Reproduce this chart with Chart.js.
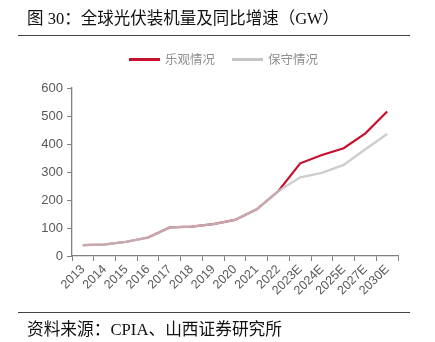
<!DOCTYPE html>
<html><head><meta charset="utf-8">
<script src="https://cdn.jsdelivr.net/npm/chart.js@4/dist/chart.umd.min.js"></script>
<style>
html,body{margin:0;padding:0;background:#fff;}
#wrap{position:relative;width:435px;height:342px;overflow:hidden;}
#c{position:absolute;left:0;top:0;}
.t{position:absolute;white-space:nowrap;font-family:"Liberation Serif","Noto Sans CJK SC",serif;color:#111;}
.rule{position:absolute;left:18px;width:392px;height:1px;background:#444;}
.lg{position:absolute;height:3px;}
.lt{position:absolute;font-family:"Noto Sans CJK SC",sans-serif;font-size:12.5px;color:#8f8f8f;line-height:14px;}
</style></head>
<body><div id="wrap">
<canvas id="c" width="435" height="342"></canvas>
<div class="t" style="left:27px;top:5px;font-size:16.5px;">图 30：全球光伏装机量及同比增速（GW）</div>
<div class="rule" style="top:35px;"></div>
<div class="lg" style="left:129px;top:58px;width:31px;background:#C8102E;"></div>
<div class="lt" style="left:165px;top:52px;">乐观情况</div>
<div class="lg" style="left:232px;top:58px;width:31px;background:#C4C4C4;"></div>
<div class="lt" style="left:268px;top:52px;">保守情况</div>
<div class="rule" style="top:312px;"></div>
<div class="t" style="left:27px;top:316px;font-size:16.7px;">资料来源：CPIA、山西证券研究所</div>
</div>
<script>
const categories = ["2013","2014","2015","2016","2017","2018","2019","2020","2021","2022","2023E","2024E","2025E","2027E","2030E"];
const optimistic = [39, 41, 51, 66, 102, 105, 114, 129, 167, 232, 331, 361, 385, 438, 516];
const conservative = [39, 41, 51, 66, 102, 105, 114, 129, 167, 232, 281, 297, 325, 381, 436];
const yTicks = [0,100,200,300,400,500,600];

new Chart(document.getElementById('c'), {
  type: 'line',
  data: {
    labels: categories,
    datasets: [
      {label:'乐观情况', data: optimistic, borderColor:'#C8102E', borderWidth:2.2, pointRadius:0, tension:0, fill:false, order:1},
      {label:'保守情况', data: conservative, borderColor:'rgba(196,196,196,0.85)', borderWidth:2.4, pointRadius:0, tension:0, fill:false, order:0}
    ]
  },
  options: {
    responsive:false, animation:false, devicePixelRatio:1,
    layout:{padding:{top:88,right:37,left:0,bottom:0}},
    plugins:{legend:{display:false}, tooltip:{enabled:false}},
    scales:{
      x:{
        offset:true,
        grid:{display:true, drawOnChartArea:false, tickLength:5, color:'#808080', offset:true},
        border:{color:'#808080', width:1.3},
        ticks:{color:'#595959', font:{family:'"Liberation Sans", Arial', size:12.5}, minRotation:45, maxRotation:45, padding:1, autoSkip:false},
        afterFit:(s)=>{s.height = 342-256;}
      },
      y:{
        min:0, max:600,
        afterBuildTicks:(s)=>{s.ticks = yTicks.map(v=>({value:v}));},
        grid:{display:true, drawOnChartArea:false, tickLength:5, color:'#808080'},
        border:{color:'#808080', width:1.3},
        ticks:{color:'#595959', font:{family:'"Liberation Sans", Arial', size:13}, padding:4},
        afterFit:(s)=>{s.width = 72;}
      }
    }
  }
});
</script>
</body></html>
